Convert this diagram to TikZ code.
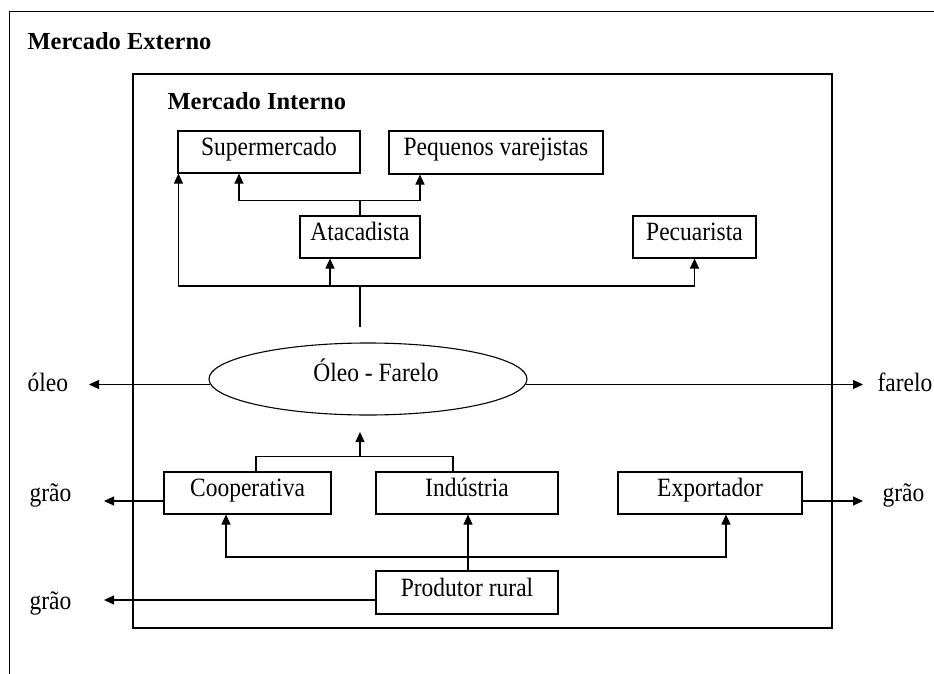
\documentclass[tikz,border=0pt]{standalone}
\usepackage{fontspec}
\setmainfont{Liberation Serif}
\newfontfamily\tallserif[FakeStretch=0.89]{Liberation Serif}
\usetikzlibrary{arrows.meta,shapes.geometric}
\begin{document}
\begin{tikzpicture}[x=1pt,y=-1pt,line width=1.1pt,
  every node/.style={font=\tallserif\fontsize{26.4}{30}\selectfont},
  box/.style={draw,rectangle,inner sep=0pt,text height=17pt,text depth=10pt},
  lbl/.style={anchor=base west,inner sep=0pt},
  title/.style={anchor=base west,inner sep=0pt,font=\rmfamily\fontsize{24.5}{29}\selectfont\bfseries},
  arr/.style={-{Triangle[length=10pt,width=9pt]}}]
\useasboundingbox (0,0) rectangle (934,674);
\clip (0,0) rectangle (934,674);
% frames
\draw[line width=1pt] (9,700) -- (9,12) -- (960,12);
\draw (133,74) rectangle (832,628);
\node[title] (mext) at (27,50) {Mercado Externo};
\node[title] (mint) at (167,110) {Mercado Interno};
% boxes
\node[box,minimum width=182pt,minimum height=42pt] (sup) at (269,152) {Supermercado};
\node[box,minimum width=214pt,minimum height=43pt] (peq) at (496,152.5) {Pequenos varejistas};
\node[box,minimum width=120pt,minimum height=42pt] (ata) at (360,237) {Atacadista};
\node[box,minimum width=123pt,minimum height=42pt] (pec) at (694.5,237) {Pecuarista};
\node[draw,ellipse,inner sep=0pt,text height=17pt,text depth=12pt,minimum width=318pt,minimum height=72pt] (ell) at (368,379) {\hspace*{16pt}Óleo - Farelo};
\node[box,minimum width=167pt,minimum height=42pt] (coop) at (247.5,493) {Cooperativa};
\node[box,minimum width=182pt,minimum height=42pt] (ind) at (467,493) {Indústria};
\node[box,minimum width=184pt,minimum height=42pt] (exp) at (710,493) {Exportador};
\node[box,minimum width=182pt,minimum height=43pt] (prod) at (467,592.5) {Produtor rural};
% side labels
\node[lbl] (oleo) at (27,391) {óleo};
\node[lbl] (grao1) at (29,501) {grão};
\node[lbl] (grao2) at (29,609) {grão};
\node[lbl] (farelo) at (877,391) {farelo};
\node[lbl] (grao3) at (882,501) {grão};
% coordinates
\coordinate (tipL1) at (89,387);
\coordinate (tipL2) at (104,501);
\coordinate (tipL3) at (104,600);
\coordinate (tipR1) at (863,387);
\coordinate (tipR2) at (863,501);
\coordinate (bus1) at (360,286);
\coordinate (ftop) at (360,327);
\coordinate (j2) at (360,457);
\coordinate (j2tip) at (360,432);
\coordinate (bus2) at (468,557);
% top connectors
\draw[arr] (ata.north) -- ++(0,-15) -| ([xshift=-30pt]sup.south);
\draw[arr] (ata.north) -- ++(0,-15) -| ([xshift=-76pt]peq.south);
\draw (ftop) -- (bus1);
\draw[arr] (bus1) -| ([xshift=1pt]sup.south west);
\draw[arr] (bus1) -| ([xshift=-30pt]ata.south);
\draw[arr] (bus1) -| (pec.south);
% ellipse outputs
\draw[arr] (ell.182.6) -- (ell.182.6 -| tipL1);
\draw[arr] (ell.-2.6) -- (ell.-2.6 -| tipR1);
% into ellipse
\draw ([xshift=8.5pt]coop.north) -- ++(0,-15) -| ([xshift=-14pt]ind.north);
\draw[arr] (j2) -- (j2tip);
% bottom
\draw[arr] (bus2) -| ([xshift=-21.5pt]coop.south);
\draw[arr] (bus2) -| ([xshift=16pt]exp.south);
\draw[arr] ([xshift=1pt]prod.north) -- ([xshift=1pt]ind.south);
% side arrows
\draw[arr] ([yshift=-8pt]coop.west) -- (tipL2);
\draw[arr] ([yshift=-8pt]exp.east) -- (tipR2);
\draw[arr] ([yshift=-7.5pt]prod.west) -- (tipL3);
\end{tikzpicture}
\end{document}
